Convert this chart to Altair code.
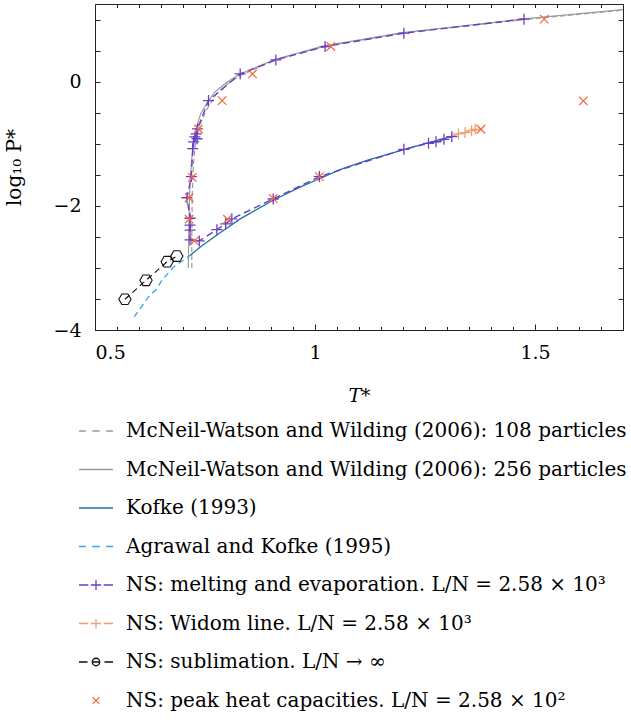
import altair as alt
import pandas as pd

# ---------------- data ----------------
mw108_T = [0.720, 0.720, 0.721, 0.724, 0.729, 0.737, 0.752, 0.776, 0.800, 0.830, 0.910, 1.020, 1.200, 1.475, 1.700]
mw108_P = [-3.00, -2.50, -1.80, -1.30, -0.95, -0.72, -0.47, -0.20, -0.04, 0.10, 0.35, 0.565, 0.785, 1.000, 1.150]

mw256_T = [0.712, 0.713, 0.715, 0.719, 0.725, 0.731, 0.740, 0.753, 0.772, 0.800, 0.826, 0.910, 1.020, 1.200, 1.475, 1.700]
mw256_P = [-3.00, -2.50, -1.80, -1.30, -0.95, -0.73, -0.52, -0.36, -0.17, -0.01, 0.11, 0.36, 0.575, 0.790, 1.010, 1.160]

kofke_T = [0.716, 0.740, 0.777, 0.830, 0.905, 0.966, 1.011, 1.060, 1.118, 1.200, 1.250, 1.314]
kofke_P = [-2.80, -2.66, -2.47, -2.21, -1.91, -1.70, -1.56, -1.41, -1.27, -1.10, -1.00, -0.876]

agrawal_T = [0.589, 0.621, 0.640, 0.652, 0.678, 0.700, 0.716]
agrawal_P = [-3.79, -3.47, -3.34, -3.20, -2.99, -2.88, -2.80]

melt_T = [1.475, 1.202, 1.023, 0.911, 0.830, 0.758, 0.733, 0.730, 0.727, 0.732, 0.724, 0.722,
          0.719, 0.709, 0.716, 0.716, 0.716, 0.716, 0.737, 0.777, 0.797, 0.811, 0.905, 1.010,
          1.202, 1.258, 1.275, 1.293, 1.311]
melt_P = [1.006, 0.780, 0.565, 0.350, 0.124, -0.306, -0.760, -0.840, -0.890, -0.920, -0.970, -1.080,
          -1.530, -1.870, -2.200, -2.310, -2.390, -2.550, -2.565, -2.385, -2.290, -2.210, -1.890, -1.530,
          -1.090, -0.994, -0.968, -0.930, -0.887]

widom_T = [1.326, 1.341, 1.356, 1.364]
widom_P = [-0.843, -0.820, -0.790, -0.768]

sub_T = [0.568, 0.616, 0.664, 0.686]
sub_P = [-3.505, -3.200, -2.900, -2.810]

peak_T = [1.521, 1.036, 0.858, 0.789, 0.735, 0.721, 0.714, 0.714, 0.726, 0.801, 0.905, 1.010, 1.377, 1.610]
peak_P = [1.006, 0.565, 0.124, -0.306, -0.763, -1.542, -1.870, -2.215, -2.565, -2.215, -1.880, -1.530, -0.768, -0.310]

x_labels = [0.5, 1.0, 1.5]
y_labels = [-4, -2, 0]
x_minor = [round(0.5 + 0.05 * k, 2) for k in range(25)]
y_minor = [round(-4 + 0.5 * k, 2) for k in range(11)]

series = [
    "McNeil-Watson and Wilding (2006): 108 particles",
    "McNeil-Watson and Wilding (2006): 256 particles",
    "Kofke (1993)",
    "Agrawal and Kofke (1995)",
    "NS: melting and evaporation.  L/N = 2.58 × 10³",
    "NS: Widom line.  L/N = 2.58 × 10³",
    "NS: sublimation.  L/N → ∞",
    "NS: peak heat capacities.  L/N = 2.58 × 10²",
]

# ---------------- styles ----------------
FONT = "DejaVu Serif"
W, H = 528, 326
GRAY = "#9b9b9b"
KOFKE = "#15769e"
AGRAWAL = "#2aaee4"
PURPLE = "#6b3fc4"
WIDOM = "#eca173"
BLACK = "#111111"
PEAK = "#f4693c"
INK = "#222222"

PLUS = "M-1,0H1M0,-1V1"
CROSS = "M-1,-1L1,1M-1,1L1,-1"
HEX = "M-1,0L-0.5,-0.866L0.5,-0.866L1,0L0.5,0.866L-0.5,0.866Z"

DASHED = "M-1,0H-0.6M-0.22,0H0.22M0.6,0H1"
SOLID = "M-1,0H1"
LEG_PLUS = "M-1,0H-0.45M-0.3,0H0.3M0,-0.3V0.3M0.45,0H1"
LEG_CIRC = ("M-1,0H-0.5M-0.22,0H0.22M0.22,0A0.22,0.22 0 1 1 -0.22,0"
            "A0.22,0.22 0 1 1 0.22,0M0.5,0H1")
LEG_X = "M-0.2,-0.2L0.2,0.2M-0.2,0.2L0.2,-0.2"

xs = alt.Scale(domain=[0.5, 1.7], nice=False, zero=False)
ys = alt.Scale(domain=[-4, 1.25], nice=False, zero=False)


def df(T, P):
    return pd.DataFrame({"T": T, "P": P, "i": list(range(len(T)))})


def tick_axis(orient, values, size, offset):
    return alt.Axis(orient=orient, values=values, offset=offset, labels=False, domain=False,
                    grid=False, ticks=True, tickSize=size, tickColor=INK, tickWidth=1, title=None)


ax_x_lab = alt.Axis(orient="bottom", values=x_labels, format="~g", ticks=False, tickSize=0,
                    domain=False, grid=False, labelPadding=13, title="T*", titleFontStyle="italic",
                    titlePadding=24)
ax_y_lab = alt.Axis(orient="left", values=y_labels, format="~g", ticks=False, tickSize=0,
                    domain=False, grid=False, labelPadding=14, title="log₁₀ P*", titlePadding=28,
                    titleFontSize=20)


def line_layer(d, color, dash, width, xaxis=None, yaxis=None):
    kw = {}
    if dash:
        kw["strokeDash"] = dash
    return alt.Chart(d).mark_line(color=color, strokeWidth=width, clip=True, **kw).encode(
        x=alt.X("T:Q", scale=xs, axis=xaxis),
        y=alt.Y("P:Q", scale=ys, axis=yaxis),
        order="i:Q",
    )


def point_layer(d, color, shape, size, width=1.3):
    return alt.Chart(d).mark_point(shape=shape, size=size, filled=False, color=color,
                                   strokeWidth=width, opacity=1, clip=True).encode(
        x=alt.X("T:Q", scale=xs, axis=None),
        y=alt.Y("P:Q", scale=ys, axis=None),
    )


l_108 = line_layer(df(mw108_T, mw108_P), GRAY, [5, 3], 1.2, ax_x_lab, ax_y_lab)
l_256 = line_layer(df(mw256_T, mw256_P), GRAY, None, 1.2,
                   tick_axis("top", x_minor, 3.5, -H), tick_axis("right", y_minor, 5, -W))
l_kof = line_layer(df(kofke_T, kofke_P), KOFKE, None, 1.3,
                   tick_axis("bottom", x_minor, 3.5, -H), tick_axis("left", y_minor, 5, -W))
l_agr = line_layer(df(agrawal_T, agrawal_P), AGRAWAL, [6, 4], 1.3,
                   tick_axis("top", x_labels, 6, -H), None)
l_sub = line_layer(df(sub_T, sub_P), BLACK, [6, 4], 1.2)
l_melt = line_layer(df(melt_T, melt_P), PURPLE, [7, 4], 1.4)
l_wid = line_layer(df([melt_T[-1]] + widom_T, [melt_P[-1]] + widom_P), WIDOM, [7, 4], 1.4)

p_melt = point_layer(df(melt_T, melt_P), PURPLE, PLUS, 121)
p_wid = point_layer(df(widom_T, widom_P), WIDOM, PLUS, 121)
p_sub = point_layer(df(sub_T, sub_P), BLACK, HEX, 150, 1.1)
p_peak = point_layer(df(peak_T, peak_P), PEAK, CROSS, 72, 1.3)

legend = alt.Legend(orient="none", legendX=-17, legendY=409, title=None, padding=0,
                    labelFont=FONT, labelFontSize=20, labelColor="black", labelLimit=1000,
                    labelOffset=12, symbolSize=1156, symbolStrokeWidth=1.3, rowPadding=10.5,
                    symbolFillColor="transparent")

leg_df = pd.DataFrame({"series": series})
leg = alt.Chart(leg_df).mark_point(filled=False, opacity=1).encode(
    color=alt.Color("series:N", legend=legend,
                    scale=alt.Scale(domain=series,
                                    range=[GRAY, GRAY, KOFKE, AGRAWAL, PURPLE, WIDOM, BLACK, PEAK])),
    shape=alt.Shape("series:N", legend=legend,
                    scale=alt.Scale(domain=series,
                                    range=[DASHED, SOLID, SOLID, DASHED, LEG_PLUS, LEG_PLUS, LEG_CIRC, LEG_X])),
).transform_filter("false")

chart = alt.layer(
    l_108, l_256, l_kof, l_agr, l_sub, l_melt, l_wid, p_melt, p_wid, p_sub, p_peak, leg
).resolve_axis(x="independent", y="independent").properties(
    width=W, height=H,
    autosize=alt.AutoSizeParams(type="none"),
    padding={"left": 95, "top": 4, "right": 8, "bottom": 391},
).configure_axis(
    labelFont=FONT, titleFont=FONT, labelFontSize=19, titleFontSize=19,
    labelColor="black", titleColor="black", titleFontWeight="normal",
).configure_view(stroke=INK, strokeWidth=1)

chart.save("out.html", embed_options={"renderer": "svg", "actions": False})
